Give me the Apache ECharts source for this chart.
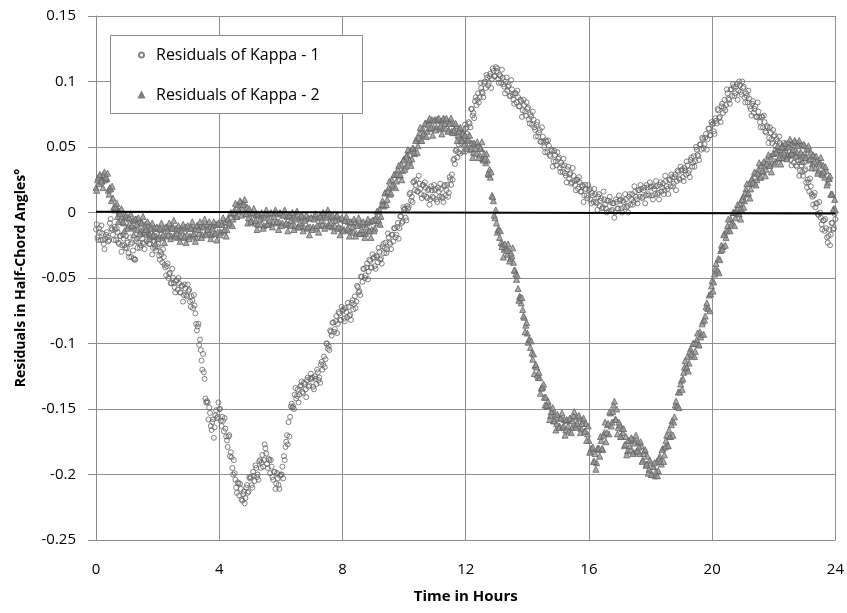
<!DOCTYPE html>
<html>
<head>
<meta charset="utf-8">
<script src="https://cdn.jsdelivr.net/npm/echarts@6/dist/echarts.min.js"></script>
<style>
	html, body { margin: 0; padding: 0; background: #ffffff; }
	#chart { width: 847px; height: 613px; }
</style>
</head>
<body>
<div id="chart"></div>
<script>
// readings every 0.05 h, plus a second set read half a step later; values in thousandths of a degree
const timeStep = 0.05;

const seriesNames = ['Residuals of Kappa - 1', 'Residuals of Kappa - 2'];

const kappa1Milli = [
	-13, -19, -12, -21, -16, -24, -20, -15, -22, -8, -12, -17, -11, -21, -15, -24, -18, -25, -20, -27,
	-27, -31, -19, -34, -29, -36, -22, -27, -18, -25, -20, -24, -17, -22, -16, -24, -19, -27, -22, -29,
	-26, -33, -30, -38, -34, -42, -41, -50, -46, -54, -50, -57, -52, -59, -54, -61, -56, -63, -58, -64,
	-60, -68, -64, -73, -71, -85, -87, -101, -105, -120, -122, -142, -144, -158, -153, -166, -158, -164, -151, -156,
	-150, -159, -156, -167, -165, -174, -171, -186, -187, -200, -199, -210, -206, -216, -211, -220, -213, -218, -208, -213,
	-203, -208, -198, -205, -195, -200, -190, -195, -185, -189, -180, -192, -188, -199, -194, -204, -198, -207, -203, -211,
	-200, -194, -186, -179, -170, -160, -156, -146, -148, -139, -142, -135, -139, -132, -137, -130, -135, -128, -133, -127,
	-127, -133, -125, -131, -122, -126, -116, -120, -110, -112, -100, -102, -90, -94, -84, -89, -79, -85, -77, -82,
	-75, -81, -73, -80, -72, -78, -69, -74, -64, -68, -57, -60, -49, -53, -43, -48, -39, -45, -37, -42,
	-35, -41, -33, -38, -30, -35, -26, -31, -23, -28, -19, -24, -17, -22, -12, -17, -8, -12, -3, -7,
	2, -4, 5, 4, 15, 12, 23, 17, 25, 16, 22, 14, 21, 13, 19, 11, 18, 10, 17, 11,
	17, 10, 19, 12, 18, 11, 20, 13, 21, 15, 25, 29, 40, 37, 48, 46, 56, 53, 60, 57,
	64, 60, 69, 65, 79, 76, 85, 82, 91, 88, 95, 91, 99, 95, 103, 99, 106, 102, 108, 104,
	108, 102, 105, 99, 103, 96, 100, 93, 97, 89, 94, 86, 91, 84, 88, 81, 85, 78, 82, 74,
	79, 71, 75, 67, 71, 63, 67, 58, 63, 54, 58, 50, 55, 46, 51, 43, 47, 39, 44, 36,
	41, 34, 38, 31, 36, 28, 33, 26, 30, 23, 28, 21, 25, 18, 23, 16, 20, 13, 18, 11,
	17, 10, 15, 8, 14, 7, 12, 5, 11, 4, 10, 3, 9, 1, 8, 2, 7, 0, 8, 3,
	9, 3, 9, 4, 10, 5, 12, 6, 14, 8, 16, 10, 17, 12, 18, 12, 19, 13, 19, 13,
	19, 13, 20, 14, 20, 15, 21, 16, 22, 17, 24, 18, 25, 20, 27, 22, 29, 24, 31, 25,
	32, 27, 34, 29, 36, 32, 40, 35, 43, 39, 48, 43, 52, 48, 56, 52, 60, 56, 64, 59,
	67, 62, 72, 68, 78, 73, 81, 76, 86, 82, 91, 86, 94, 89, 96, 91, 98, 93, 97, 90,
	95, 88, 91, 84, 87, 79, 83, 76, 81, 73, 77, 69, 73, 65, 69, 61, 65, 57, 61, 53,
	58, 51, 56, 48, 53, 46, 51, 44, 49, 42, 47, 40, 45, 38, 43, 35, 40, 32, 36, 28,
	32, 23, 25, 16, 20, 12, 13, 4, 7, -2, 0, -9, -6, -14, -12, -23, -13, -17, -8, -12,
	-5
];

const kappa1MilliHalf = [
	-9, -21, -15, -10, -21, -28, -17, -19, -21, -5, -13, -21, -13, -12, -23, -18, -30, -17, -25, -18,
	-23, -34, -24, -23, -35, -36, -20, -23, -27, -14, -23, -28, -17, -13, -24, -19, -32, -19, -27, -20,
	-24, -36, -32, -28, -40, -48, -39, -47, -54, -43, -54, -61, -52, -50, -61, -56, -68, -55, -63, -55,
	-59, -72, -67, -63, -77, -90, -85, -97, -113, -108, -127, -145, -145, -149, -163, -160, -172, -155, -157, -145,
	-150, -163, -159, -157, -171, -179, -170, -183, -195, -189, -204, -214, -207, -207, -219, -215, -222, -210, -214, -202,
	-202, -210, -201, -193, -202, -204, -189, -191, -194, -177, -184, -195, -189, -189, -202, -198, -211, -199, -208, -201,
	-200, -203, -189, -175, -177, -171, -148, -149, -150, -134, -140, -145, -133, -129, -138, -131, -141, -126, -132, -123,
	-126, -135, -127, -120, -128, -130, -114, -116, -118, -100, -104, -105, -91, -84, -91, -83, -92, -76, -82, -72,
	-74, -83, -76, -69, -79, -82, -67, -70, -73, -56, -61, -63, -49, -43, -50, -42, -51, -36, -42, -32,
	-34, -43, -34, -27, -36, -39, -24, -27, -31, -16, -23, -28, -17, -12, -19, -11, -20, -3, -8, 4,
	3, -6, 3, 14, 9, 8, 24, 21, 16, 28, 18, 11, 21, 23, 12, 17, 6, 20, 12, 21,
	18, 8, 16, 22, 12, 8, 21, 17, 12, 27, 21, 25, 41, 47, 42, 52, 45, 61, 56, 67,
	65, 58, 68, 79, 74, 72, 88, 86, 84, 99, 92, 88, 100, 105, 97, 104, 95, 110, 104, 111,
	110, 99, 104, 109, 98, 91, 103, 96, 89, 101, 90, 83, 91, 93, 81, 86, 73, 86, 77, 84,
	80, 68, 73, 77, 65, 58, 69, 61, 54, 65, 54, 46, 54, 55, 44, 48, 35, 47, 39, 46,
	42, 31, 36, 41, 30, 23, 35, 29, 22, 34, 24, 17, 25, 27, 16, 21, 8, 21, 13, 21,
	18, 7, 13, 18, 8, 2, 14, 9, 3, 16, 6, 0, 9, 12, 1, 7, -4, 10, 3, 13,
	10, 0, 8, 14, 4, 0, 14, 10, 6, 20, 12, 7, 17, 21, 11, 17, 7, 21, 14, 23,
	20, 10, 18, 24, 14, 10, 23, 19, 14, 28, 20, 14, 25, 29, 20, 27, 17, 32, 26, 35,
	33, 24, 32, 39, 30, 27, 42, 38, 35, 50, 44, 40, 52, 57, 49, 57, 48, 64, 59, 69,
	68, 60, 70, 79, 72, 69, 83, 80, 78, 94, 87, 83, 94, 98, 89, 96, 86, 100, 92, 100,
	96, 84, 89, 93, 81, 74, 85, 79, 73, 84, 73, 65, 73, 74, 62, 66, 53, 65, 56, 63,
	59, 48, 54, 58, 47, 41, 53, 47, 41, 53, 43, 36, 45, 47, 36, 40, 28, 40, 31, 38,
	33, 19, 23, 26, 14, 6, 15, 7, -1, 8, -4, -13, -6, -5, -19, -18, -25, -8, -13, -1
];

const kappa2Milli = [
	19, 25, 22, 28, 24, 29, 25, 26, 17, 19, 9, 11, 2, 5, -3, 1, -6, -1, -8, -3,
	-4, -10, -5, -11, -6, -12, -5, -13, -7, -14, -8, -14, -9, -15, -10, -17, -11, -17, -12, -18,
	-12, -18, -13, -19, -12, -18, -11, -17, -12, -18, -11, -17, -12, -19, -13, -18, -12, -19, -11, -17,
	-12, -18, -11, -17, -12, -19, -10, -16, -11, -17, -10, -16, -9, -15, -11, -17, -10, -16, -9, -15,
	-9, -15, -8, -14, -7, -13, -5, -9, -1, -5, 2, -3, 6, 1, 8, 3, 7, -1, 4, -4,
	1, -6, -1, -8, -2, -9, -2, -9, -3, -10, -2, -9, -1, -8, -1, -7, 0, -8, -1, -7,
	-1, -8, -2, -9, -3, -9, -2, -10, -4, -10, -3, -11, -4, -10, -3, -11, -5, -12, -4, -11,
	-4, -11, -3, -12, -4, -10, -2, -9, -3, -10, -2, -9, -3, -11, -4, -10, -3, -12, -5, -12,
	-5, -13, -6, -13, -7, -14, -8, -15, -7, -16, -9, -16, -8, -15, -9, -16, -8, -14, -7, -13,
	-6, -12, -3, -8, 2, -3, 9, 5, 15, 10, 19, 14, 25, 20, 29, 24, 33, 28, 37, 32,
	41, 35, 44, 38, 47, 41, 49, 45, 56, 51, 61, 55, 64, 59, 68, 62, 70, 64, 71, 65,
	71, 65, 71, 64, 70, 65, 71, 64, 70, 63, 69, 62, 68, 61, 66, 59, 64, 56, 60, 52,
	57, 50, 55, 48, 53, 46, 52, 45, 51, 44, 49, 41, 45, 38, 40, 29, 27, 13, 9, -4,
	-8, -13, -19, -23, -24, -28, -27, -32, -29, -35, -33, -38, -44, -51, -58, -64, -69, -74, -80, -86,
	-92, -97, -103, -107, -108, -117, -118, -126, -126, -134, -133, -141, -141, -148, -147, -155, -152, -159, -154, -161,
	-156, -163, -157, -164, -158, -166, -159, -167, -157, -164, -155, -162, -156, -163, -157, -165, -159, -167, -161, -169,
	-174, -182, -180, -190, -184, -191, -181, -186, -174, -181, -168, -175, -162, -169, -153, -160, -147, -158, -150, -164,
	-162, -171, -168, -178, -171, -182, -174, -181, -173, -183, -174, -182, -175, -184, -178, -189, -182, -193, -186, -196,
	-191, -200, -194, -201, -190, -197, -186, -192, -180, -185, -174, -178, -166, -171, -159, -160, -147, -148, -137, -137,
	-128, -127, -118, -119, -110, -115, -104, -109, -100, -106, -97, -101, -91, -93, -83, -82, -72, -73, -63, -62,
	-52, -53, -43, -45, -35, -36, -25, -26, -16, -19, -10, -13, -5, -8, 0, -4, 3, -1, 7, 3,
	12, 9, 18, 14, 22, 18, 26, 22, 30, 25, 33, 27, 36, 31, 38, 33, 41, 36, 43, 38,
	45, 39, 47, 41, 48, 42, 50, 44, 51, 44, 52, 45, 53, 46, 54, 46, 53, 45, 52, 44,
	51, 43, 48, 40, 46, 37, 43, 34, 40, 32, 38, 30, 36, 27, 32, 23, 26, 14, 14, 3,
	2
];

const kappa2MilliHalf = [
	17, 27, 29, 24, 19, 31, 27, 30, 14, 18, 20, 4, 4, 7, -7, -1, 3, -7, -14, -2,
	-12, -4, -1, -10, -17, -5, -9, -4, -16, -8, -3, -15, -13, -7, -20, -12, -8, -17, -24, -11,
	-20, -12, -8, -17, -23, -11, -14, -8, -20, -12, -6, -18, -16, -10, -22, -14, -9, -18, -23, -10,
	-20, -12, -7, -16, -22, -10, -13, -7, -19, -11, -5, -17, -13, -7, -20, -12, -7, -16, -21, -8,
	-17, -9, -4, -13, -18, -5, -8, 0, -10, 0, 7, -3, 2, 9, -2, 6, 10, -1, -8, 3,
	-7, 0, 3, -6, -13, -1, -5, 0, -12, -4, 2, -9, -6, 0, -11, -3, 2, -7, -13, 0,
	-10, -2, 2, -8, -14, -2, -6, 0, -13, -5, 1, -11, -8, -2, -14, -6, -2, -11, -17, -4,
	-13, -5, -1, -10, -15, -3, -6, 0, -12, -4, 2, -10, -8, -2, -14, -6, -2, -11, -17, -4,
	-14, -6, -3, -12, -18, -7, -11, -5, -18, -10, -4, -16, -13, -7, -19, -11, -5, -14, -19, -6,
	-14, -5, 1, -6, -9, 6, 6, 15, 6, 16, 24, 15, 21, 29, 19, 29, 36, 29, 25, 40,
	33, 43, 48, 40, 36, 49, 46, 55, 46, 57, 65, 55, 60, 68, 58, 67, 72, 65, 59, 70,
	63, 71, 72, 66, 60, 72, 68, 72, 62, 68, 72, 61, 63, 68, 55, 62, 65, 55, 47, 59,
	49, 56, 59, 49, 42, 53, 49, 54, 42, 49, 54, 40, 41, 45, 30, 33, 31, 12, -2, 2,
	-15, -13, -14, -26, -34, -24, -29, -24, -37, -31, -27, -44, -47, -48, -67, -65, -65, -79, -91, -84,
	-99, -97, -98, -112, -123, -116, -124, -122, -138, -134, -131, -147, -147, -144, -158, -152, -149, -159, -166, -154,
	-164, -157, -153, -163, -170, -158, -163, -157, -168, -159, -152, -164, -161, -155, -168, -161, -157, -167, -174, -163,
	-183, -180, -179, -190, -196, -180, -180, -171, -180, -170, -160, -168, -161, -152, -163, -152, -144, -158, -169, -160,
	-171, -165, -165, -177, -185, -174, -178, -172, -184, -176, -170, -182, -179, -175, -190, -184, -181, -192, -199, -189,
	-200, -194, -191, -198, -201, -188, -190, -181, -190, -179, -170, -178, -171, -162, -170, -156, -144, -148, -149, -131,
	-135, -122, -113, -118, -121, -106, -108, -100, -110, -100, -92, -101, -95, -85, -93, -79, -69, -73, -75, -56,
	-60, -47, -39, -44, -46, -29, -28, -17, -25, -14, -5, -14, -9, 0, -10, 0, 6, -1, -5, 10,
	4, 15, 22, 15, 11, 25, 23, 31, 21, 30, 38, 27, 32, 39, 28, 37, 44, 36, 31, 45,
	37, 46, 51, 42, 37, 50, 46, 53, 41, 50, 56, 45, 48, 55, 43, 51, 55, 46, 39, 52,
	42, 49, 51, 41, 34, 44, 39, 43, 30, 37, 42, 29, 31, 35, 21, 26, 28, 14, 2, 10
];

// the black reference line across zero (slightly tilted in the original)
const zeroLine = [[0, 0.0005], [24, -0.0008]];

const fontFamily = "'Open Sans', sans-serif";

function toPoints(values, halfValues) {
	const points = values.map((v, i) => [Math.round(i * timeStep * 1000) / 1000, v / 1000]);
	halfValues.forEach((v, i) => {
		points.push([Math.round((i + 0.5) * timeStep * 1000) / 1000, v / 1000]);
	});
	return points;
}

const chart = echarts.init(document.getElementById('chart'), null, { renderer: 'canvas' });

const option = {
	backgroundColor: '#ffffff',
	animation: false,
	grid: {
		left: 96,
		top: 16,
		right: 11,
		bottom: 73
	},
	graphic: [
		{
			type: 'rect',
			left: 110,
			top: 35,
			z: 3,
			shape: { width: 252, height: 78 },
			style: { fill: '#ffffff', stroke: '#8a8a8a', lineWidth: 1 }
		}
	],
	legend: {
		data: seriesNames,
		orient: 'vertical',
		left: 138,
		top: 45,
		padding: 0,
		itemGap: 20,
		itemWidth: 5,
		itemHeight: 5,
		z: 4,
		textStyle: {
			fontFamily,
			fontSize: 16,
			color: '#000000',
			lineHeight: 20,
			padding: [0, 0, 0, 7]
		}
	},
	xAxis: {
		type: 'value',
		min: 0,
		max: 24,
		interval: 4,
		name: 'Time in Hours',
		nameLocation: 'middle',
		nameGap: 49,
		nameTextStyle: {
			fontFamily,
			fontSize: 15,
			fontWeight: 'bold',
			color: '#000000'
		},
		axisLine: { show: true, lineStyle: { color: '#8a8a8a', width: 1 } },
		axisTick: { show: true, length: 6, lineStyle: { color: '#8a8a8a' } },
		axisLabel: {
			margin: 22,
			fontFamily,
			fontSize: 15,
			color: '#000000'
		},
		splitLine: { show: true, lineStyle: { color: '#8f8f8f', width: 1 } }
	},
	yAxis: {
		type: 'value',
		min: -0.25,
		max: 0.15,
		interval: 0.05,
		name: 'Residuals in Half-Chord Angles°',
		nameLocation: 'middle',
		nameRotate: 90,
		nameGap: 68,
		nameTextStyle: {
			fontFamily,
			fontSize: 14,
			fontWeight: 'bold',
			color: '#000000'
		},
		axisLine: { show: true, lineStyle: { color: '#8a8a8a', width: 1 } },
		axisTick: { show: true, length: 8, lineStyle: { color: '#8a8a8a' } },
		axisLabel: {
			margin: 20,
			fontFamily,
			fontSize: 15,
			color: '#000000'
		},
		splitLine: { show: true, lineStyle: { color: '#8f8f8f', width: 1 } }
	},
	series: [
		{
			name: seriesNames[0],
			type: 'scatter',
			symbol: 'circle',
			symbolSize: 5,
			itemStyle: {
				color: 'rgba(255,255,255,0)',
				borderColor: '#646464',
				borderWidth: 1
			},
			data: toPoints(kappa1Milli, kappa1MilliHalf),
			z: 2
		},
		{
			name: seriesNames[1],
			type: 'scatter',
			symbol: 'triangle',
			symbolSize: 6,
			itemStyle: {
				color: '#969696',
				borderColor: '#646464',
				borderWidth: 1
			},
			data: toPoints(kappa2Milli, kappa2MilliHalf),
			z: 2
		},
		{
			name: 'zero',
			type: 'line',
			symbol: 'none',
			silent: true,
			lineStyle: { color: '#000000', width: 2 },
			data: zeroLine,
			z: 3
		}
	]
};

chart.setOption(option);
</script>
</body>
</html>
